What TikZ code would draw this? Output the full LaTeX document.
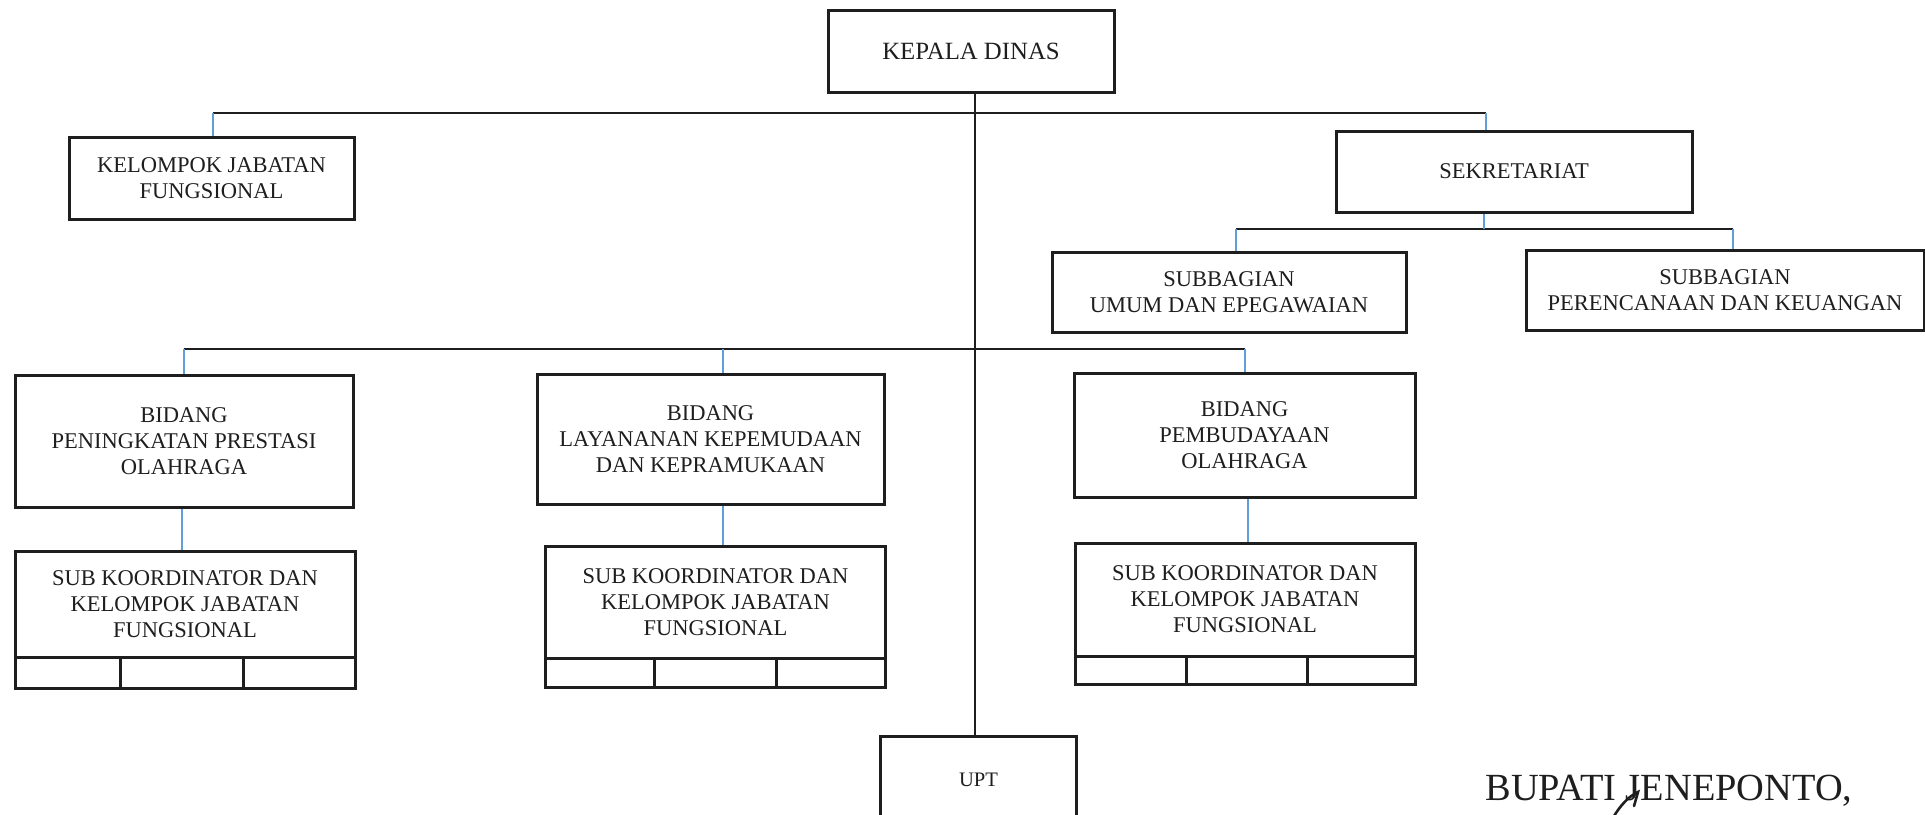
\documentclass[tikz,border=0pt]{standalone}
\usepackage{fontspec}
\setmainfont{Liberation Serif}
\definecolor{linkblue}{RGB}{95,158,218}
\definecolor{inkgray}{RGB}{30,30,30}
\begin{document}
\begin{tikzpicture}[x=0.5pt,y=-0.5pt,
  orgbox/.style={draw=inkgray, line width=1.5pt, inner sep=0pt, align=center, text=inkgray,
    font=\fontsize{11.25}{13}\selectfont},
  cellbox/.style={draw=inkgray, line width=1.5pt, inner sep=0pt},
  blk/.style={draw=inkgray, line width=1.2pt},
  blu/.style={draw=linkblue, line width=1pt}]
\useasboundingbox[fill=white] (0,0) rectangle (1925,814);

% boxes
\node[orgbox, minimum width=143pt, minimum height=41pt, font=\fontsize{12.4}{14}\selectfont] (kepala) at (971,51) {KEPALA DINAS};
\node[orgbox, minimum width=142.5pt, minimum height=41pt] (kjf) at (211.5,178) {KELOMPOK JABATAN\\FUNGSIONAL};
\node[orgbox, minimum width=178pt, minimum height=40.5pt] (sek) at (1514,171.5) {SEKRETARIAT};
\node[orgbox, minimum width=177pt, minimum height=40pt] (umum) at (1229,292) {SUBBAGIAN\\UMUM DAN EPEGAWAIAN};
\node[orgbox, minimum width=199pt, minimum height=40pt] (renc) at (1725,290) {SUBBAGIAN\\PERENCANAAN DAN KEUANGAN};

\node[orgbox, minimum width=169pt, minimum height=66pt] (b1) at (184,441) {BIDANG\\PENINGKATAN PRESTASI\\OLAHRAGA};
\node[orgbox, minimum width=173.5pt, minimum height=65pt] (b2) at (710.5,439) {BIDANG\\LAYANANAN KEPEMUDAAN\\DAN KEPRAMUKAAN};
\node[orgbox, minimum width=170.5pt, minimum height=62pt] (b3) at (1244.5,435) {BIDANG\\PEMBUDAYAAN\\OLAHRAGA};

\node[orgbox, minimum width=170pt, minimum height=53pt] (s1) at (185,604) {SUB KOORDINATOR DAN\\KELOMPOK JABATAN\\FUNGSIONAL};
\node[cellbox, minimum width=52.5pt, minimum height=15.5pt] (s1a) at (67.5,672.5) {};
\node[cellbox, minimum width=61.5pt, minimum height=15.5pt] (s1b) at (181.5,672.5) {};
\node[cellbox, minimum width=56pt, minimum height=15.5pt] (s1c) at (299,672.5) {};

\node[orgbox, minimum width=170pt, minimum height=56pt] (s2) at (715.5,602) {SUB KOORDINATOR DAN\\KELOMPOK JABATAN\\FUNGSIONAL};
\node[cellbox, minimum width=54.5pt, minimum height=14.5pt] (s2a) at (599.5,672.5) {};
\node[cellbox, minimum width=61pt, minimum height=14.5pt] (s2b) at (715,672.5) {};
\node[cellbox, minimum width=54.5pt, minimum height=14.5pt] (s2c) at (830.5,672.5) {};

\node[orgbox, minimum width=170pt, minimum height=56.5pt] (s3) at (1245,599.5) {SUB KOORDINATOR DAN\\KELOMPOK JABATAN\\FUNGSIONAL};
\node[cellbox, minimum width=55.5pt, minimum height=14pt] (s3a) at (1130.5,670) {};
\node[cellbox, minimum width=60.5pt, minimum height=14pt] (s3b) at (1246.5,670) {};
\node[cellbox, minimum width=54pt, minimum height=14pt] (s3c) at (1361,670) {};

\node[inner sep=0pt, minimum width=97.5pt, minimum height=42.5pt, text=inkgray,
  font=\fontsize{10.3}{12}\selectfont] (upt) at (978.5,779.5) {UPT};
\draw[draw=inkgray, line width=1.5pt] (upt.south west) -- (upt.north west) -- (upt.north east) -- (upt.south east);

\node[anchor=base, inner sep=0pt, text=inkgray, font=\fontsize{19.2}{22}\selectfont] (bupati) at (1669,800) {BUPATI JENEPONTO,};
\draw[draw=inkgray, line width=1.3pt, line cap=round] (1614,816) .. controls (1624,800) and (1632,795) .. (1638,792) -- (1634,806);

% connector junctions
\coordinate (t1) at (213,113);
\coordinate (t2) at (1486,113);
\coordinate (sp) at (975,92);
\coordinate (m1) at (184,349);
\coordinate (m2) at (723,349);
\coordinate (m3) at (1245,349);
\coordinate (k1) at (1236,229);
\coordinate (k2) at (1733,229);
\coordinate (kc) at (1484,229);

% black connectors
\draw[blk] (t1) -- (t2);
\draw[blk] (m1) -- (m3);
\draw[blk] (k1) -- (k2);
\draw[blk] (sp) -- (sp |- upt.north);

% blue drops
\draw[blu] (t1) -- (t1 |- kjf.north);
\draw[blu] (t2) -- (t2 |- sek.north);
\draw[blu] (kc |- sek.south) -- (kc);
\draw[blu] (k1) -- (k1 |- umum.north);
\draw[blu] (k2) -- (k2 |- renc.north);
\draw[blu] (m1) -- (m1 |- b1.north);
\draw[blu] (m2) -- (m2 |- b2.north);
\draw[blu] (m3) -- (m3 |- b3.north);
\draw[blu] ([xshift=-1pt]b1.south) -- ([xshift=-1pt]b1.south |- s1.north);
\draw[blu] ([xshift=6pt]b2.south) -- ([xshift=6pt]b2.south |- s2.north);
\draw[blu] ([xshift=1.75pt]b3.south) -- ([xshift=1.75pt]b3.south |- s3.north);
\end{tikzpicture}
\end{document}
